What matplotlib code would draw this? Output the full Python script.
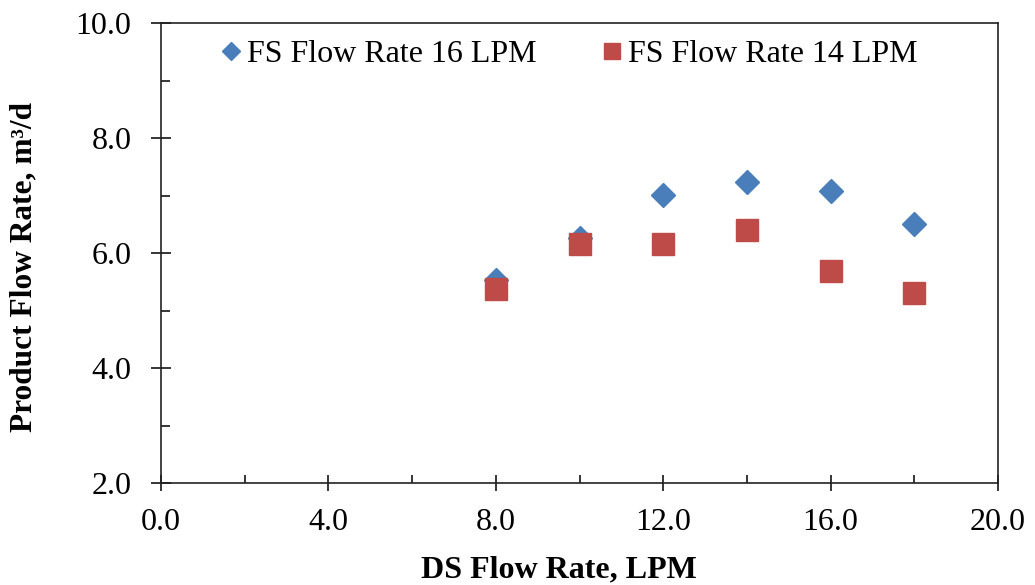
import matplotlib
matplotlib.use("Agg")
import matplotlib.pyplot as plt
from matplotlib.ticker import MultipleLocator, FormatStrFormatter

ds_flow = [8, 10, 12, 14, 16, 18]
fs16 = [5.53, 6.26, 7.01, 7.23, 7.08, 6.50]
fs14 = [5.37, 6.15, 6.15, 6.40, 5.69, 5.30]
labels = ["FS Flow Rate 16 LPM", "FS Flow Rate 14 LPM"]

plt.rcParams['font.family'] = ['Liberation Serif', 'DejaVu Serif']

W, H = 1035, 585
fig = plt.figure(figsize=(W / 100, H / 100), dpi=100)
L, R, T, B = 161, 998, 23, 483
ax = fig.add_axes([L / W, 1 - B / H, (R - L) / W, (B - T) / H])

ax.plot(ds_flow, fs16, linestyle='none', marker='D', markersize=12.5,
        color='#4a7ebb', markeredgecolor='#4a7ebb', label=labels[0])
ax.plot(ds_flow, fs14, linestyle='none', marker='s', markersize=16.5,
        color='#be4b48', markeredgecolor='#be4b48', label=labels[1])

ax.set_xlim(0, 20)
ax.set_ylim(2, 10)
ax.xaxis.set_major_locator(MultipleLocator(4))
ax.xaxis.set_minor_locator(MultipleLocator(2))
ax.yaxis.set_major_locator(MultipleLocator(2))
ax.yaxis.set_minor_locator(MultipleLocator(1))
ax.xaxis.set_major_formatter(FormatStrFormatter('%.1f'))
ax.yaxis.set_major_formatter(FormatStrFormatter('%.1f'))

ax.tick_params(axis='x', which='major', direction='inout', length=12.2, width=1.1,
               labelsize=23, pad=12)
ax.tick_params(axis='x', which='minor', direction='in', length=5.8, width=1.1)
ax.tick_params(axis='y', which='major', direction='inout', length=13.7, width=1.1,
               labelsize=23, pad=14.4)
ax.tick_params(axis='y', which='minor', direction='in', length=6.5, width=1.1)
for s in ax.spines.values():
    s.set_linewidth(1.2)
    s.set_color('#222222')

ax.set_xlabel("DS Flow Rate, LPM", fontsize=23, fontweight='bold')
ax.set_ylabel("Product Flow Rate, m³/d", fontsize=22.6, fontweight='bold')
ax.xaxis.set_label_coords((559 - L) / (R - L), (B - 555) / (B - T))
ax.yaxis.set_label_coords((38 - L) / (R - L), (B - 267) / (B - T))

ax.legend(loc='upper left', bbox_to_anchor=((217 - L) / (R - L), (B - 40) / (B - T)),
          ncol=2, frameon=False, fontsize=23, handletextpad=0.05,
          columnspacing=1.9, markerscale=0.7, handlelength=0.9,
          borderpad=0, borderaxespad=0)

fig.savefig("out.png", dpi=100)
